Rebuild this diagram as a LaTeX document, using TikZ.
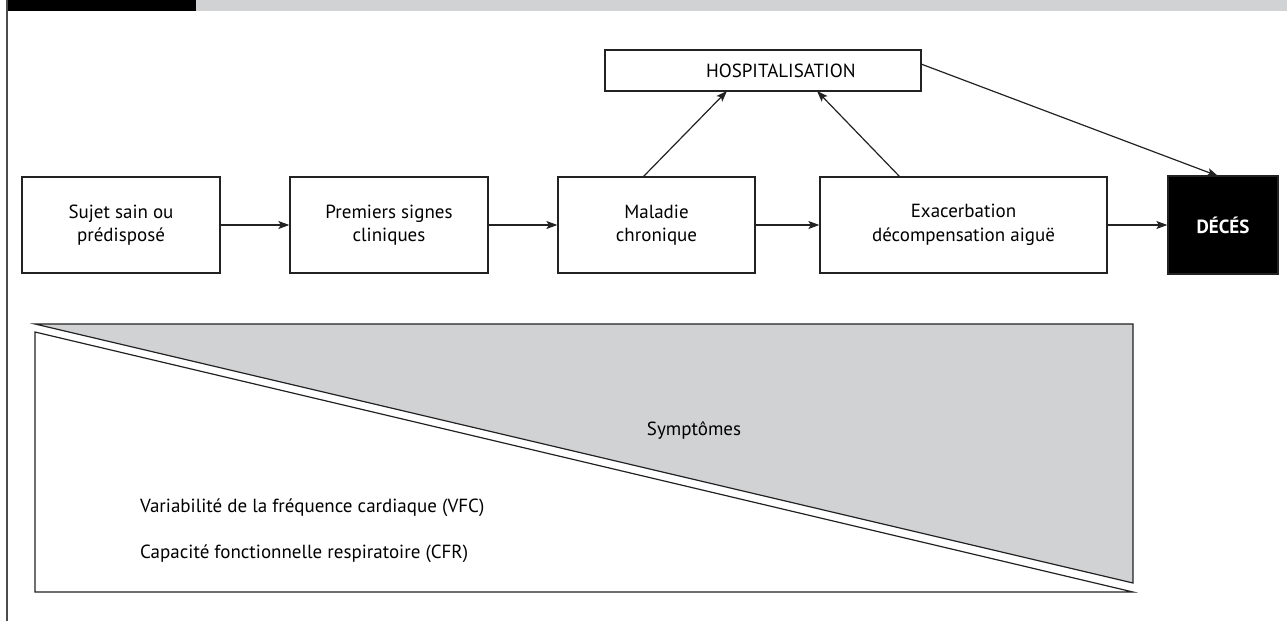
\documentclass[tikz,border=0pt]{standalone}
\usepackage{fontspec}
\setmainfont{PT Sans}
\usetikzlibrary{arrows.meta}
\definecolor{barg}{HTML}{D1D2D4}
\definecolor{lineg}{HTML}{222222}
\tikzset{
  box/.style={draw=lineg, line width=1.3pt, fill=white, align=center, inner sep=0pt, font=\fontsize{19}{23.5}\selectfont},
  conn/.style={draw=lineg, line width=1.2pt, -{Stealth[length=11pt,width=8pt,inset=2.5pt]}},
  lbl/.style={font=\fontsize{19}{23}\selectfont, inner sep=0pt}
}
\begin{document}
\begin{tikzpicture}[x=1pt,y=-1pt]
\useasboundingbox (0,0) rectangle (1287,621);
% header bar and frame
\fill[black] (7,0) rectangle (196,11);
\fill[barg] (196,0) rectangle (1287,11);
\draw[draw=black!70, line width=1.6pt] (7,0) -- (7,621);
% boxes
\node[box, minimum width=198pt, minimum height=96pt] (b1) at (121,225) {Sujet sain ou\\prédisposé};
\node[box, minimum width=198pt, minimum height=96pt] (b2) at (389,225) {Premiers signes\\cliniques};
\node[box, minimum width=197pt, minimum height=96pt] (b3) at (656.5,225) {Maladie\\chronique};
\node[box, minimum width=287pt, minimum height=96pt] (b4) at (963.5,225) {Exacerbation\\décompensation aiguë};
\node[box, fill=black, text=white, minimum width=110pt, minimum height=98pt, font=\fontsize{19}{23}\selectfont\bfseries] (d) at (1223,225) {DÉCÉS};
\node[box, minimum width=316pt, minimum height=41pt, text width=316pt, align=left, inner xsep=0pt] (h) at (763,70.5) {\hspace*{101pt}HOSPITALISATION};
% connectors
\draw[conn] (b1.east) -- (b2.west);
\draw[conn] (b2.east) -- (b3.west);
\draw[conn] (b3.east) -- (b4.west);
\draw[conn] (b4.east) -- (d.west);
\coordinate (b3t) at (643,177);
\coordinate (h1) at (727,91);
\coordinate (b4t) at (900,177);
\coordinate (h2) at (817,91);
\coordinate (hr) at (921,64);
\coordinate (dt) at (1218,176);
\draw[conn] (b3t) -- (h1);
\draw[conn] (b4t) -- (h2);
\draw[conn] (hr) -- (dt);
% triangles
\draw[draw=lineg, line width=1.2pt, fill=barg] (35,324) -- (1133,324) -- (1133,583) -- cycle;
\draw[draw=lineg, line width=1.2pt, fill=white] (35,332) -- (1133,592) -- (35,592) -- cycle;
\node[lbl] (sym) at (694,430) {Symptômes};
\node[lbl, anchor=base west] (vfc) at (140,512) {Variabilité de la fréquence cardiaque (VFC)};
\node[lbl, anchor=base west] (cfr) at (140,558) {Capacité fonctionnelle respiratoire (CFR)};
\end{tikzpicture}
\end{document}
